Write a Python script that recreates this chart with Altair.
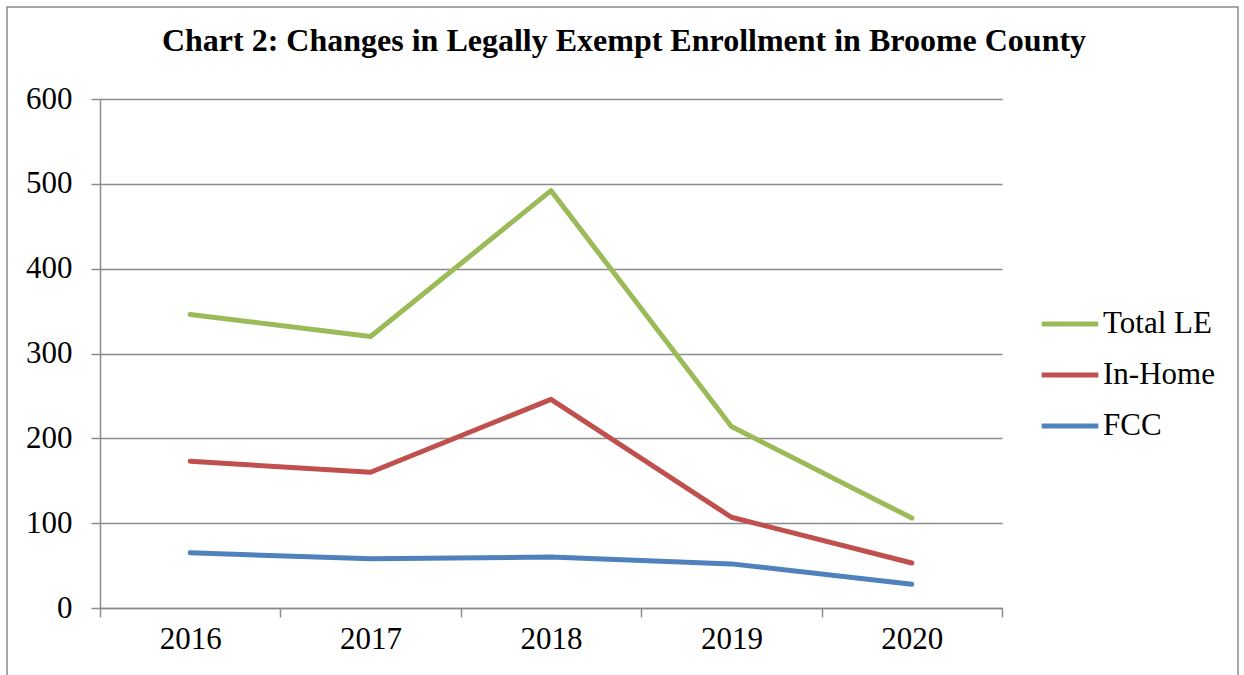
import altair as alt
import pandas as pd

years = ["2016", "2017", "2018", "2019", "2020"]
series_names = ["Total LE", "In-Home", "FCC"]
total_le = [346, 320, 492, 214, 106]
in_home = [173, 160, 246, 107, 53]
fcc = [65, 58, 60, 52, 28]
colors = ["#9BBB59", "#C0504D", "#4F81BD"]
y_ticks = [0, 100, 200, 300, 400, 500, 600]

rows = []
for name, vals in zip(series_names, [total_le, in_home, fcc]):
    for yr, v in zip(years, vals):
        rows.append({"Year": yr, "Series": name, "Value": v})
df = pd.DataFrame(rows)

FONT = "Liberation Serif"
GRAY = "#8c8c8c"
LBL = 31

lines = alt.Chart(df).mark_line(strokeWidth=5, strokeCap="round", strokeJoin="round").encode(
    x=alt.X("Year:N", bandPosition=0.5,
            scale=alt.Scale(type="band", domain=years, paddingInner=0, paddingOuter=0),
            axis=alt.Axis(title=None, tickBand="extent", grid=False, domainColor=GRAY,
                          domainWidth=1.5, tickColor=GRAY, tickWidth=1.5, tickSize=9,
                          labelAngle=0, labelFontSize=LBL, labelColor="black",
                          labelPadding=7)),
    y=alt.Y("Value:Q", scale=alt.Scale(domain=[0, 600], nice=False),
            axis=alt.Axis(title=None, values=y_ticks, grid=True, gridColor=GRAY, gridWidth=1.5,
                          domainColor=GRAY, domainWidth=1.5, tickColor=GRAY, tickWidth=1.5,
                          tickSize=9, labelFontSize=LBL, labelColor="black",
                          labelPadding=19)),
    color=alt.Color("Series:N", scale=alt.Scale(domain=series_names, range=colors),
                    legend=alt.Legend(title=None, orient="none", legendX=939, legendY=194,
                                      symbolType="stroke", symbolSize=3200, symbolStrokeWidth=5,
                                      labelFontSize=LBL, labelColor="black",
                                      labelOffset=2, rowPadding=5, padding=0)),
    order=alt.Order("Year:N"),
)

border = alt.Chart(pd.DataFrame({"a": [0]})).mark_rect(
    fill=None, stroke=GRAY, strokeWidth=1.5
).encode(x=alt.value(-93), x2=alt.value(1138), y=alt.value(-92), y2=alt.value(620))

chart = alt.layer(border, lines).properties(
    width=902, height=509,
    title=alt.Title("Chart 2: Changes in Legally Exempt Enrollment in Broome County",
                    fontSize=32, fontWeight="bold", color="black",
                    anchor="middle", dx=73, baseline="alphabetic", offset=-77),
    padding={"left": 100, "top": 99, "right": 242, "bottom": 67},
    autosize=alt.AutoSizeParams(type="none"),
).configure(font=FONT).configure_view(stroke=None)

chart.save("out.html", embed_options={"renderer": "svg", "actions": False})
